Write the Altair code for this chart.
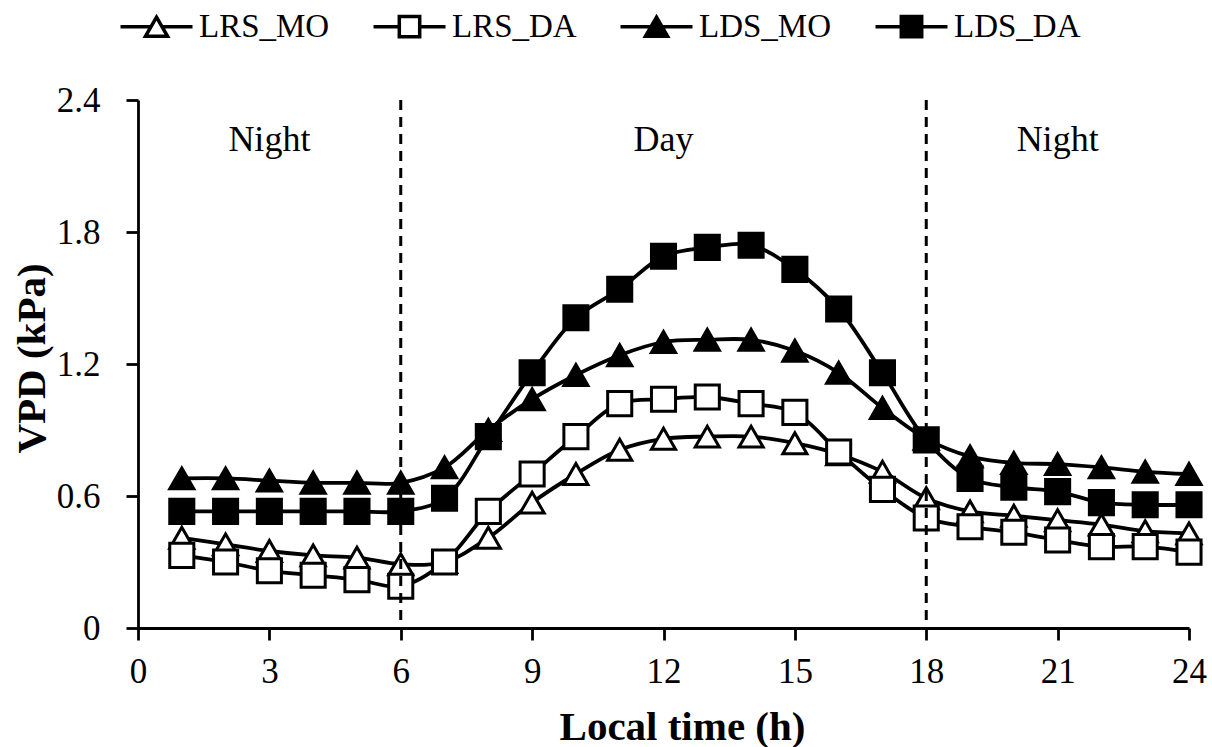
import altair as alt
import pandas as pd

hours = list(range(1, 25))
series_names = ["LRS_MO", "LRS_DA", "LDS_MO", "LDS_DA"]
LRS_MO = [0.41, 0.38, 0.35, 0.33, 0.32, 0.29, 0.30, 0.41, 0.57, 0.70, 0.81, 0.86,
          0.87, 0.87, 0.84, 0.79, 0.71, 0.59, 0.53, 0.51, 0.49, 0.47, 0.44, 0.43]
LRS_DA = [0.33, 0.30, 0.26, 0.24, 0.22, 0.19, 0.30, 0.53, 0.70, 0.87, 1.02, 1.04,
          1.05, 1.02, 0.98, 0.80, 0.63, 0.50, 0.46, 0.435, 0.40, 0.37, 0.37, 0.345]
LDS_MO = [0.68, 0.68, 0.67, 0.66, 0.66, 0.66, 0.73, 0.90, 1.04, 1.15, 1.24, 1.30,
          1.31, 1.31, 1.26, 1.16, 1.00, 0.86, 0.78, 0.75, 0.745, 0.73, 0.71, 0.70]
LDS_DA = [0.53, 0.53, 0.53, 0.53, 0.53, 0.53, 0.59, 0.87, 1.16, 1.41, 1.54, 1.69,
          1.73, 1.74, 1.63, 1.45, 1.16, 0.855, 0.68, 0.64, 0.62, 0.57, 0.56, 0.56]

boundary_hours = [6, 18]
period_labels = ["Night", "Day", "Night"]
period_hours = [3, 12, 21]
period_y = [2.22, 2.22, 2.22]

x_ticks = [0, 3, 6, 9, 12, 15, 18, 21, 24]
y_ticks = [0, 0.6, 1.2, 1.8, 2.4]

marker_shapes = ["triangle-up", "square", "triangle-up", "square"]
marker_fills = ["white", "white", "black", "black"]
legend_paths = [
    "M-3,0H-0.46M0.46,0H3M0,-0.8L0.92,0.8L-0.92,0.8Z",
    "M-3,0H-0.85M0.85,0H3M-0.85,-0.85H0.85V0.85H-0.85Z",
    "M-3,0H-0.46M0.46,0H3M0,-0.8L0.92,0.8L-0.92,0.8Z",
    "M-3,0H-0.85M0.85,0H3M-0.85,-0.85H0.85V0.85H-0.85Z",
]

values = {"LRS_MO": LRS_MO, "LRS_DA": LRS_DA, "LDS_MO": LDS_MO, "LDS_DA": LDS_DA}
rows = []
for s in series_names:
    for h, v in zip(hours, values[s]):
        rows.append({"series": s, "hour": h, "vpd": v})
df = pd.DataFrame(rows)

FONT = "Liberation Serif"

x_enc = alt.X("hour:Q", scale=alt.Scale(domain=[0, 24], nice=False),
              axis=alt.Axis(values=x_ticks, title="Local time (h)", labelPadding=14,
                            titleX=544, titleY=111, titleAlign="center",
                            titleBaseline="alphabetic", titleFontSize=41))
y_enc = alt.Y("vpd:Q", scale=alt.Scale(domain=[0, 2.4], nice=False),
              axis=alt.Axis(values=y_ticks, title="VPD (kPa)", labelPadding=26,
                            titleX=-106, titleY=258, titleAlign="center", titleAngle=270,
                            titleBaseline="middle", titleFontSize=41,
                            labelExpr="datum.value == 0 ? '0' : format(datum.value, '.1f')"))

base = alt.Chart(df)
layers = []
for s, shp, fl in zip(series_names, marker_shapes, marker_fills):
    sub = base.transform_filter(alt.datum.series == s)
    layers.append(sub.mark_line(color="black", strokeWidth=3.8, interpolate="catmull-rom")
                  .encode(x=x_enc, y=y_enc))
    layers.append(sub.mark_point(filled=True, size=580, stroke="black", strokeWidth=3,
                                 opacity=1, shape=shp, fill=fl)
                  .encode(x=x_enc, y=y_enc))

rules = alt.Chart(pd.DataFrame({"hour": boundary_hours})).mark_rule(
    color="black", strokeWidth=3, strokeDash=[10, 7]).encode(x="hour:Q")

labels = alt.Chart(pd.DataFrame({"hour": period_hours, "vpd": period_y, "label": period_labels})).mark_text(
    font=FONT, fontSize=36, color="black", baseline="middle", align="center").encode(
    x="hour:Q", y="vpd:Q", text="label:N")

legend_layer = base.transform_filter("datum.hour < 0").mark_point(
    filled=True, strokeWidth=3.5, opacity=1).encode(
    x="hour:Q", y="vpd:Q",
    shape=alt.Shape("series:N", scale=alt.Scale(domain=series_names, range=legend_paths),
                    legend=alt.Legend(title=None)),
    fill=alt.Fill("series:N", scale=alt.Scale(domain=series_names, range=marker_fills),
                  legend=alt.Legend(title=None)),
    stroke=alt.Stroke("series:N", scale=alt.Scale(domain=series_names, range=["black"] * 4),
                      legend=alt.Legend(title=None)),
)

chart = alt.layer(*layers, rules, labels, legend_layer).properties(
    width=1051, height=528,
    autosize=alt.AutoSizeParams(type="none"),
    padding={"left": 138, "top": 100, "right": 23, "bottom": 119},
).configure_view(stroke=None).configure_axis(
    grid=False, domainColor="black", domainWidth=2.8, tickColor="black", tickWidth=2.8,
    tickSize=12, labelFont=FONT, labelFontSize=35, labelColor="black", labelFlush=False,
    titleFont=FONT, titleFontWeight="bold", titleColor="black",
).configure_legend(
    orient="none", legendX=2, legendY=-90, direction="horizontal", columns=4,
    symbolSize=576, symbolStrokeWidth=3.5, symbolStrokeColor="black", symbolOpacity=1,
    labelFont=FONT, labelFontSize=33, labelColor="black", labelOffset=26,
    columnPadding=36, labelLimit=300,
)

chart.save("out.html", embed_options={"renderer": "svg", "actions": False})
